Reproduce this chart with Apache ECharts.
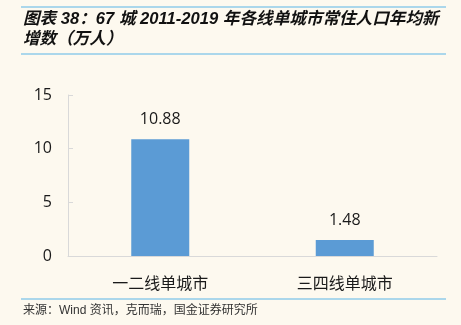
<!DOCTYPE html>
<html>
<head>
<meta charset="utf-8">
<script src="https://cdn.jsdelivr.net/npm/echarts@6/dist/echarts.min.js"></script>
<style>
  html, body { margin: 0; padding: 0; background: #FDF9EF; }
  #chart { width: 461px; height: 325px; }
</style>
</head>
<body>
<div id="chart"></div>
<script>
// Average annual increase in resident population, 67 cities, 2011-2019 (10k people)
const categories = ['一二线单城市', '三四线单城市'];
const values = [10.88, 1.48];
const yTicks = [0, 5, 10, 15];

const titleLine1 = '图表 38：67 城 2011-2019 年各线单城市常住人口年均新';
const titleLine2 = '增数（万人）';
const sourceText = '来源：Wind 资讯，克而瑞，国金证券研究所';

const chart = echarts.init(document.getElementById('chart'), null, { renderer: 'canvas' });

chart.setOption({
  backgroundColor: '#FDF9EF',
  animation: false,
  grid: { left: 68, right: 24, top: 95, bottom: 69, containLabel: false },
  xAxis: {
    type: 'category',
    data: categories,
    axisLine: { lineStyle: { color: '#D9D9D9', width: 1 } },
    axisTick: { show: false },
    axisLabel: {
      color: '#1a1a1a', fontSize: 16, margin: 19,
      fontFamily: '"Noto Sans CJK SC", sans-serif'
    }
  },
  yAxis: {
    type: 'value',
    min: yTicks[0],
    max: yTicks[yTicks.length - 1],
    interval: 5,
    axisLine: { show: true, lineStyle: { color: '#D9D9D9', width: 1 } },
    axisTick: { show: true, inside: true, length: 5, lineStyle: { color: '#D9D9D9' } },
    splitLine: { show: false },
    axisLabel: {
      color: '#1a1a1a', fontSize: 16, margin: 16,
      fontFamily: '"Open Sans", sans-serif'
    }
  },
  series: [{
    type: 'bar',
    data: values,
    barWidth: 58,
    itemStyle: { color: '#5B9BD5' },
    label: {
      show: true, position: 'top', distance: 12,
      color: '#1a1a1a', fontSize: 16,
      fontFamily: '"Open Sans", sans-serif',
      formatter: p => p.value.toFixed(2)
    }
  }],
  graphic: [
    { type: 'line', shape: { x1: 21, y1: 7, x2: 446, y2: 7 }, style: { stroke: '#8FCBEA', lineWidth: 1.5 } },
    { type: 'line', shape: { x1: 21, y1: 54, x2: 446, y2: 54 }, style: { stroke: '#8FCBEA', lineWidth: 1.5 } },
    { type: 'line', shape: { x1: 21, y1: 299, x2: 446, y2: 299 }, style: { stroke: '#8FCBEA', lineWidth: 1.5 } },
    {
      type: 'text', left: 23, top: 11,
      style: {
        text: titleLine1, fill: '#111',
        font: 'italic bold 16.6px "Liberation Sans", "Noto Sans CJK SC", sans-serif'
      }
    },
    {
      type: 'text', left: 23, top: 31,
      style: {
        text: titleLine2, fill: '#111',
        font: 'italic bold 16.6px "Liberation Sans", "Noto Sans CJK SC", sans-serif'
      }
    },
    {
      type: 'text', left: 23, top: 305,
      style: {
        text: sourceText, fill: '#333',
        font: '12px "Liberation Sans", "Noto Sans CJK SC", sans-serif'
      }
    }
  ]
});
</script>
</body>
</html>
